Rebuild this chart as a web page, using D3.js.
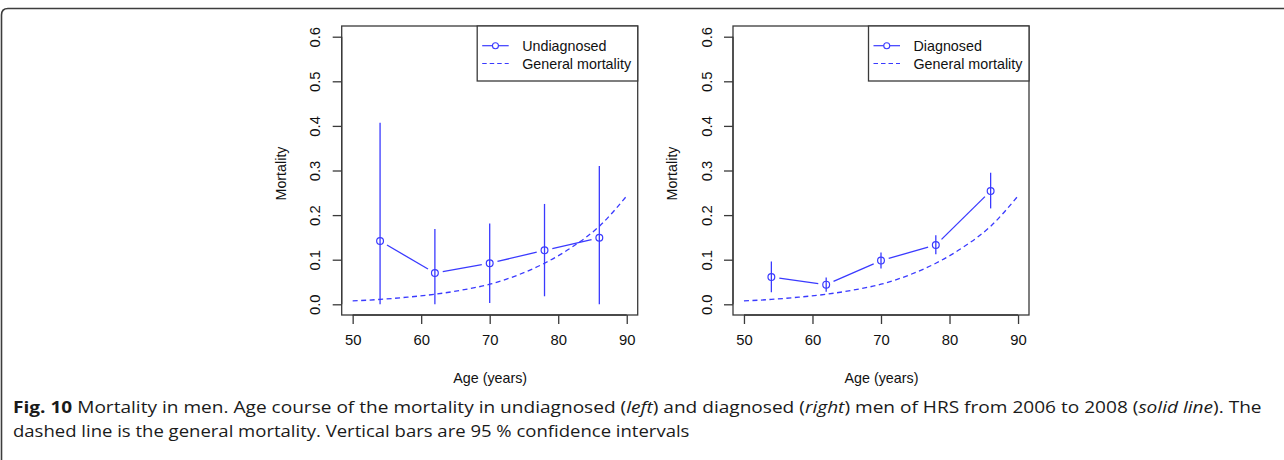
<!DOCTYPE html>
<html>
<head>
<meta charset="utf-8">
<script src="https://cdn.jsdelivr.net/npm/d3@7"></script>
<style>
  html, body { margin: 0; padding: 0; background: #fff; }
  svg { display: block; }
  .axis text { font-family: "Liberation Sans", Arial, sans-serif; }
</style>
</head>
<body>
<svg id="fig" width="1284" height="460"></svg>
<script>
// Ages at which mortality was estimated
const ages = [54, 62, 70, 78, 86];

// Undiagnosed men: mortality and 95 % confidence limits
const undiagRate = [0.142, 0.070, 0.092, 0.121, 0.149];
const undiagLow  = [0.000, 0.000, 0.003, 0.018, 0.000];
const undiagHigh = [0.407, 0.169, 0.181, 0.225, 0.310];

// Diagnosed men: mortality and 95 % confidence limits
const diagRate = [0.061, 0.044, 0.098, 0.133, 0.254];
const diagLow  = [0.027, 0.028, 0.080, 0.112, 0.215];
const diagHigh = [0.096, 0.060, 0.116, 0.155, 0.295];

// General mortality of men by age
const generalAges = [50, 54, 58, 62, 66, 70, 74, 78, 82, 86, 90];
const generalRate = [0.0075, 0.011, 0.016, 0.0225, 0.032, 0.045, 0.065, 0.092, 0.128, 0.175, 0.243];

// Axis ticks
const xTicks = [50, 60, 70, 80, 90];
const yTicks = [0.0, 0.1, 0.2, 0.3, 0.4, 0.5, 0.6];

const BLUE = "#3a3aff";
const INK = "#3a3a3a";
const FONT = "'Liberation Sans', Arial, sans-serif";
const FS = 14.3;
const TICK_FS = 14.8;

const svg = d3.select("#fig");

// Outer frame with a rounded top-left corner
svg.append("path")
  .attr("d", "M1.5,470 L1.5,15 Q1.5,8.5 8,8.5 L1290,8.5")
  .attr("fill", "none").attr("stroke", "#3d3d3d").attr("stroke-width", 1.6);

function panel(left, seriesName, rate, low, high) {
  const box = { x0: left, x1: left + 296, y0: 26, y1: 315 };
  // 4 % padding around the data range on each axis
  const x = d3.scaleLinear().domain([48.4, 91.6]).range([box.x0, box.x1]);
  const y = d3.scaleLinear().domain([-0.024, 0.624]).range([box.y1, box.y0]);
  const g = svg.append("g");

  // Plot box
  g.append("rect")
    .attr("x", box.x0).attr("y", box.y0)
    .attr("width", box.x1 - box.x0).attr("height", box.y1 - box.y0)
    .attr("fill", "none").attr("stroke", INK).attr("stroke-width", 1.3);

  // Bottom axis
  const xa = g.append("g").attr("class", "axis")
    .attr("transform", `translate(0,${box.y1})`)
    .call(d3.axisBottom(x).tickValues(xTicks).tickSize(9).tickPadding(10).tickFormat(d3.format("d")));
  xa.select(".domain").attr("d", `M${x(50)},0H${x(90)}`).attr("stroke", INK).attr("stroke-width", 1.3);
  xa.selectAll(".tick line").attr("stroke", INK).attr("stroke-width", 1.3);
  xa.selectAll("text").attr("font-size", TICK_FS).attr("fill", "#111").attr("font-family", FONT);

  // Left axis with rotated labels
  const ya = g.append("g").attr("class", "axis")
    .attr("transform", `translate(${box.x0},0)`)
    .call(d3.axisLeft(y).tickValues(yTicks).tickSize(9).tickFormat(d3.format(".1f")));
  ya.select(".domain").attr("d", `M0,${y(0)}V${y(0.6)}`).attr("stroke", INK).attr("stroke-width", 1.3);
  ya.selectAll(".tick line").attr("stroke", INK).attr("stroke-width", 1.3);
  ya.selectAll(".tick text")
    .attr("x", null).attr("dy", null)
    .attr("transform", `translate(${-26.5},0) rotate(-90)`)
    .attr("text-anchor", "middle").attr("dominant-baseline", "central")
    .attr("font-size", TICK_FS).attr("fill", "#111").attr("font-family", FONT);

  // Axis titles
  g.append("text")
    .attr("x", (box.x0 + box.x1) / 2 + 0.5).attr("y", 383)
    .attr("text-anchor", "middle").attr("font-family", FONT).attr("font-size", FS).attr("fill", "#111")
    .text("Age (years)");
  g.append("text")
    .attr("transform", `translate(${box.x0 - 61},${(box.y0 + box.y1) / 2 + 3}) rotate(-90)`)
    .attr("text-anchor", "middle").attr("dominant-baseline", "central")
    .attr("font-family", FONT).attr("font-size", FS).attr("fill", "#111")
    .text("Mortality");

  // General mortality (dashed)
  const gen = generalAges.map((a, i) => [a, generalRate[i]]);
  g.append("path")
    .attr("d", d3.line().x(d => x(d[0])).y(d => y(d[1])).curve(d3.curveMonotoneX)(gen))
    .attr("fill", "none").attr("stroke", BLUE).attr("stroke-width", 1.3)
    .attr("stroke-dasharray", "5,3.5");

  const pts = ages.map((a, i) => ({ a, r: rate[i], lo: low[i], hi: high[i] }));

  // Connecting segments with a gap around each point
  const gap = 8;
  const segs = d3.pairs(pts).map(([p, q]) => {
    const x1 = x(p.a), y1 = y(p.r), x2 = x(q.a), y2 = y(q.r);
    const len = Math.hypot(x2 - x1, y2 - y1);
    const ux = (x2 - x1) / len, uy = (y2 - y1) / len;
    return [x1 + ux * gap, y1 + uy * gap, x2 - ux * gap, y2 - uy * gap];
  });
  g.selectAll(".seg").data(segs).join("line")
    .attr("x1", d => d[0]).attr("y1", d => d[1]).attr("x2", d => d[2]).attr("y2", d => d[3])
    .attr("stroke", BLUE).attr("stroke-width", 1.3);

  // Confidence intervals
  g.selectAll(".ci").data(pts).join("line")
    .attr("x1", d => x(d.a)).attr("x2", d => x(d.a))
    .attr("y1", d => y(d.lo)).attr("y2", d => y(d.hi))
    .attr("stroke", BLUE).attr("stroke-width", 1.3);

  // Point estimates
  g.selectAll(".pt").data(pts).join("circle")
    .attr("cx", d => x(d.a)).attr("cy", d => y(d.r)).attr("r", 3.4)
    .attr("fill", "none").attr("stroke", BLUE).attr("stroke-width", 1.2);

  // Legend
  const lg = g.append("g");
  lg.append("rect")
    .attr("x", box.x1 - 160.5).attr("y", box.y0)
    .attr("width", 160.5).attr("height", 55)
    .attr("fill", "#fff").attr("stroke", INK).attr("stroke-width", 1.3);
  const lx0 = box.x1 - 155.5, lx1 = lx0 + 26.5, tx = box.x1 - 115.5;
  lg.append("line").attr("x1", lx0).attr("x2", lx1).attr("y1", 45.7).attr("y2", 45.7)
    .attr("stroke", BLUE).attr("stroke-width", 1.2);
  lg.append("circle").attr("cx", (lx0 + lx1) / 2).attr("cy", 45.7).attr("r", 3)
    .attr("fill", "#fff").attr("stroke", BLUE).attr("stroke-width", 1.1);
  lg.append("line").attr("x1", lx0).attr("x2", lx1).attr("y1", 63.5).attr("y2", 63.5)
    .attr("stroke", BLUE).attr("stroke-width", 1.2).attr("stroke-dasharray", "4.5,3");
  lg.append("text").attr("x", tx).attr("y", 45.7).attr("dominant-baseline", "central")
    .attr("font-family", FONT).attr("font-size", FS).attr("fill", "#111").text(seriesName);
  lg.append("text").attr("x", tx).attr("y", 63.5).attr("dominant-baseline", "central")
    .attr("font-family", FONT).attr("font-size", FS).attr("fill", "#111").text("General mortality");
}

panel(341.7, "Undiagnosed", undiagRate, undiagLow, undiagHigh);
panel(733, "Diagnosed", diagRate, diagLow, diagHigh);

// Figure caption
const CAP_FONT = "'Open Sans', 'Noto Sans', sans-serif";
const cap = svg.append("g").attr("font-family", CAP_FONT).attr("font-size", 15.5).attr("fill", "#1a1a1a");
const line1 = [
  { t: "Fig. 10", w: "bold" },
  { t: " Mortality in men. Age course of the mortality in undiagnosed (" },
  { t: "left", i: true },
  { t: ") and diagnosed (" },
  { t: "right", i: true },
  { t: ") men of HRS from 2006 to 2008 (" },
  { t: "solid line", i: true },
  { t: "). The" }
];
const line2 = [{ t: "dashed line is the general mortality. Vertical bars are 95 % confidence intervals" }];

// Each caption line is narrowed horizontally to its set width
function addLine(parts, yPos, width) {
  const lineG = cap.append("g");
  const txt = lineG.append("text").attr("x", 0).attr("y", 0);
  parts.forEach(p => {
    txt.append("tspan")
      .attr("font-weight", p.w || null)
      .attr("font-style", p.i ? "italic" : null)
      .text(p.t);
  });
  const sx = width / txt.node().getComputedTextLength();
  lineG.attr("transform", `translate(13,${yPos}) scale(${sx},1)`);
}
addLine(line1, 412.5, 1249);
addLine(line2, 436.5, 677);
</script>
</body>
</html>
